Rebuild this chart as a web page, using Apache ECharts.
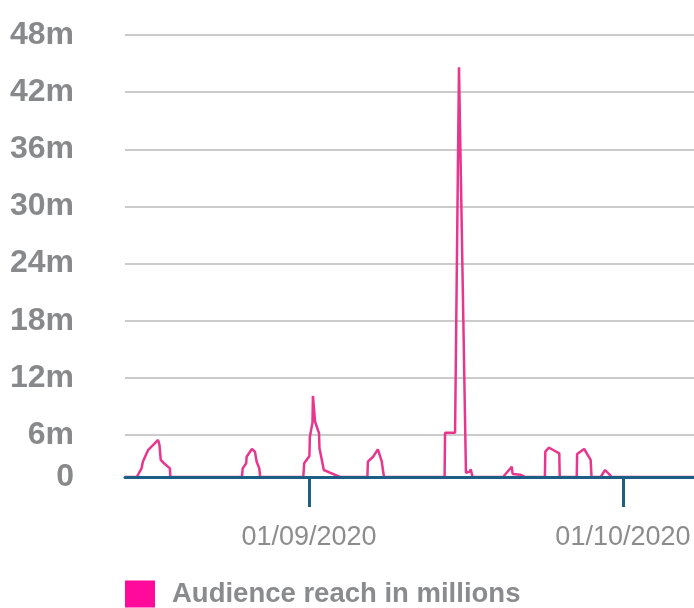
<!DOCTYPE html>
<html>
<head>
<meta charset="utf-8">
<script src="https://cdn.jsdelivr.net/npm/echarts@6/dist/echarts.min.js"></script>
<style>
html,body{margin:0;padding:0;background:#fff;}
#chart{width:694px;height:608px;}
</style>
</head>
<body>
<div id="chart"></div>
<script>
// ---- data ----
const times = [
'2020-08-14 10:00','2020-08-15 13:00','2020-08-16 00:00','2020-08-16 03:00','2020-08-16 15:00',
'2020-08-17 14:00','2020-08-17 17:00','2020-08-17 20:00','2020-08-18 02:00','2020-08-18 17:00',
'2020-08-18 18:00','2020-08-25 14:00','2020-08-25 16:00','2020-08-26 00:00','2020-08-26 01:00',
'2020-08-26 13:00','2020-08-26 20:00','2020-08-27 00:00','2020-08-27 06:00','2020-08-27 08:00',
'2020-08-31 11:00','2020-08-31 13:00','2020-09-01 01:00','2020-09-01 02:00','2020-09-01 08:00',
'2020-09-01 09:00','2020-09-01 14:00','2020-09-01 23:00','2020-09-02 00:00','2020-09-02 10:00',
'2020-09-03 00:00','2020-09-03 23:00','2020-09-06 14:00','2020-09-06 15:00','2020-09-07 03:00',
'2020-09-07 14:00','2020-09-07 23:00','2020-09-08 01:00','2020-09-08 04:00','2020-09-13 23:00',
'2020-09-14 00:00','2020-09-14 23:00','2020-09-15 08:00','2020-09-16 00:00','2020-09-16 09:00',
'2020-09-16 11:00','2020-09-16 15:00','2020-09-19 13:00','2020-09-20 09:00','2020-09-20 11:00',
'2020-09-21 04:00','2020-09-21 15:00','2020-09-23 13:00','2020-09-23 14:00','2020-09-23 22:00',
'2020-09-24 08:00','2020-09-24 22:00','2020-09-24 23:00','2020-09-26 14:00','2020-09-26 15:00',
'2020-09-27 07:00','2020-09-27 22:00','2020-09-28 00:00','2020-09-28 21:00','2020-09-29 07:00',
'2020-09-29 18:00','2020-09-29 22:00','2020-10-07 19:00'
];
const reach = [
0,0,0.94,1.66,2.93,
4.02,3.48,1.85,1.55,0.94,
0,0,0.94,1.49,2.2,
3.04,2.75,1.66,0.94,0,
0,1.49,2.28,4.38,5.9,
8.8,6.0,4.75,3.12,0.76,
0.47,0,0,1.66,2.2,
3.0,1.66,0.94,0,0,
4.81,4.81,44.5,0.47,0.58,
0.84,0,0,1.12,0.33,
0.25,0,0,2.75,3.18,
2.93,2.57,0,0,2.5,
3.04,1.85,0,0,0.76,
0.22,0,0
];
const xStart = '2020-08-14 10:00';
const xEnd = '2020-10-07 19:00';
const tickDates = ['2020-09-01 00:00', '2020-10-01 00:00'];
const yTicks = [48, 42, 36, 30, 24, 18, 12, 6];
const seriesName = 'Audience reach in millions';

function parseT(s) {
  const [d, t] = s.split(' ');
  const [y, m, dd] = d.split('-').map(Number);
  const [hh, mm] = t.split(':').map(Number);
  return new Date(y, m - 1, dd, hh, mm).getTime();
}
function pad(n) { return (n < 10 ? '0' : '') + n; }

const seriesData = times.map((t, i) => [parseT(t), reach[i]]);
const FONT = '"Liberation Sans", Arial, Helvetica, sans-serif';
const axisBlue = '#1b5f85';

const chart = echarts.init(document.getElementById('chart'), null, {renderer: 'canvas'});
chart.setOption({
  animation: false,
  backgroundColor: '#ffffff',
  textStyle: {fontFamily: FONT},
  grid: {left: 125, right: 0, top: 35, bottom: 131},
  legend: {
    left: 125, top: 580,
    itemWidth: 30, itemHeight: 27, padding: 0,
    icon: 'rect',
    selectedMode: false,
    data: [{name: seriesName, itemStyle: {color: '#ff0a9a'}}],
    textStyle: {fontSize: 27.5, fontWeight: 'bold', color: '#8a8b8d', fontFamily: FONT, padding: [0, 0, 0, 12]}
  },
  xAxis: {
    type: 'value',
    min: parseT(xStart),
    max: parseT(xEnd),
    offset: 2,
    z: 5,
    axisLine: {show: true, lineStyle: {color: axisBlue, width: 3}},
    axisTick: {show: true, length: 30, lineStyle: {color: axisBlue, width: 3},
               customValues: tickDates.map(parseT)},
    axisLabel: {
      customValues: tickDates.map(parseT),
      margin: 45,
      fontSize: 27,
      color: '#8c8c8c',
      fontFamily: FONT,
      formatter: function (v) {
        const d = new Date(v);
        return pad(d.getDate()) + '/' + pad(d.getMonth() + 1) + '/' + d.getFullYear();
      }
    },
    splitLine: {show: false}
  },
  yAxis: [
    {
      type: 'value',
      inverse: true,
      min: -yTicks[0],
      max: -1.59,
      interval: 6,
      axisLine: {show: false},
      axisTick: {show: false},
      axisLabel: {
        showMinLabel: true, showMaxLabel: true,
        margin: 51,
        fontSize: 32,
        fontWeight: 'bold',
        color: '#88898b',
        fontFamily: FONT,
        formatter: function (v) { return v > -3 ? '0' : (-v) + 'm'; }
      },
      splitLine: {show: true, lineStyle: {color: '#cbcbcb', width: 2}}
    },
    {
      type: 'value',
      min: 0,
      max: 48,
      show: false,
      splitLine: {show: false}
    }
  ],
  series: [{
    name: seriesName,
    type: 'line',
    yAxisIndex: 1,
    data: seriesData,
    showSymbol: false,
    symbol: 'none',
    lineStyle: {color: '#e8368d', width: 2.5},
    itemStyle: {color: '#ff0a9a'},
    emphasis: {disabled: true}
  }]
});
</script>
</body>
</html>
